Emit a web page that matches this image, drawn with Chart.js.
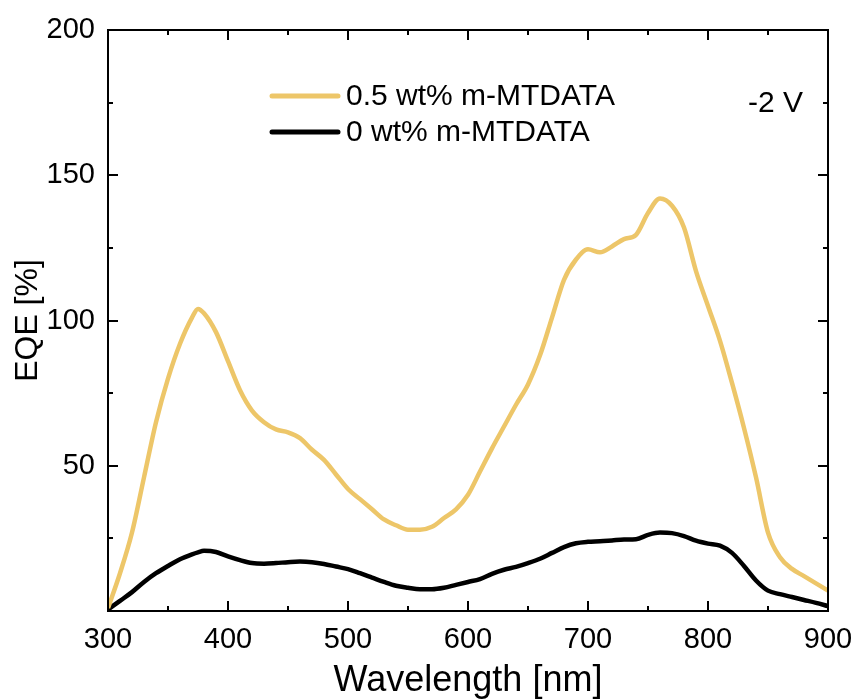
<!DOCTYPE html>
<html>
<head>
<meta charset="utf-8">
<script src="https://cdn.jsdelivr.net/npm/chart.js@4"></script>
<style>
html,body{margin:0;padding:0;background:#fff;}
#wrap{width:856px;height:699px;position:relative;}
</style>
</head>
<body>
<div id="wrap"><canvas id="c" width="856" height="699"></canvas></div>
<script>
const wavelengths = [300,310,320,330,340,350,360,370,375,380,390,400,410,420,430,440,450,460,470,480,490,500,510,520,530,540,550,560,570,580,590,600,610,620,630,640,650,660,670,680,690,700,710,720,730,740,750,760,770,780,790,800,810,820,830,840,850,860,870,880,890,900];
const eqe05 = [1,13,27,46,65,80,92,101,104,102.5,96,86,76,69,65,62.5,61.5,59.5,55.5,52,47,42,38.5,35,31.5,29.5,28,28,29,32,35,40,48,56,63.5,71,78,88,101,114,121,124.5,123.5,125.5,128,129.5,137,142,139.5,132,117,105,93,78.5,63,46,27,18.5,14.5,12,9.5,7];
const eqe0 = [0.5,3.5,6.5,10,13,15.5,17.8,19.5,20.2,20.7,20.3,18.8,17.5,16.5,16.3,16.5,16.8,17,16.8,16.2,15.3,14.4,13,11.5,10,8.7,8,7.5,7.5,8,9,10,11,12.8,14.2,15.2,16.5,18,20,22,23.3,23.8,24,24.3,24.6,24.7,26.2,27,26.8,25.8,24.2,23.2,22.5,20,15.5,10.5,7,5.8,4.8,3.8,2.8,1.7];
const seriesLabels = ['0.5 wt% m-MTDATA', '0 wt% m-MTDATA'];
const xTickLabels = [300,400,500,600,700,800,900];
const yTickLabels = [50,100,150,200];
const annotationText = '-2 V';

const FONT = '"Liberation Sans", Arial, sans-serif';
const YELLOW = '#EDC669';

const frameTicks = {
  id: 'frameTicks',
  afterDraw(chart) {
    const ctx = chart.ctx;
    const a = chart.chartArea;
    const xs = chart.scales.x, ys = chart.scales.y;
    ctx.save();
    ctx.strokeStyle = '#000';
    ctx.lineWidth = 2;
    ctx.strokeRect(a.left, a.top, a.right - a.left, a.bottom - a.top);
    ctx.beginPath();
    xs.ticks.forEach(t => {
      const px = Math.round(xs.getPixelForValue(t.value));
      const len = (t.value % 100 === 0) ? 10 : 5;
      ctx.moveTo(px, a.bottom); ctx.lineTo(px, a.bottom - len);
      ctx.moveTo(px, a.top); ctx.lineTo(px, a.top + len);
    });
    ys.ticks.forEach(t => {
      const py = Math.round(ys.getPixelForValue(t.value));
      const len = (t.value % 50 === 0) ? 10 : 5;
      ctx.moveTo(a.left, py); ctx.lineTo(a.left + len, py);
      ctx.moveTo(a.right, py); ctx.lineTo(a.right - len, py);
    });
    ctx.stroke();

    // legend
    const ds = chart.data.datasets;
    const rows = [96, 132];
    ctx.font = '30px ' + FONT;
    ctx.textBaseline = 'middle';
    ctx.textAlign = 'left';
    ds.forEach((d, i) => {
      ctx.strokeStyle = d.borderColor;
      ctx.lineWidth = 5;
      ctx.lineCap = 'round';
      ctx.beginPath();
      ctx.moveTo(272, rows[i]); ctx.lineTo(338, rows[i]);
      ctx.stroke();
      ctx.fillStyle = '#000';
      ctx.fillText(d.label, 346, rows[i] + 1);
    });
    ctx.textAlign = 'right';
    ctx.fillText(annotationText, 803, 104);
    ctx.restore();
  }
};

new Chart(document.getElementById('c'), {
  type: 'line',
  data: {
    labels: wavelengths,
    datasets: [
      { label: seriesLabels[0], data: wavelengths.map((w,i)=>({x:w,y:eqe05[i]})), borderColor: YELLOW, borderWidth: 4.5, pointRadius: 0, cubicInterpolationMode: 'monotone', fill: false },
      { label: seriesLabels[1], data: wavelengths.map((w,i)=>({x:w,y:eqe0[i]})), borderColor: '#000', borderWidth: 4.5, pointRadius: 0, cubicInterpolationMode: 'monotone', fill: false }
    ]
  },
  options: {
    responsive: false,
    animation: false,
    layout: { padding: { left: 12, right: 28, top: 30, bottom: 0 } },
    plugins: { legend: { display: false }, tooltip: { enabled: false } },
    scales: {
      x: {
        type: 'linear', min: 300, max: 900,
        grid: { display: false, drawTicks: false },
        border: { display: true, color: '#000', width: 2 },
        ticks: {
          stepSize: 50, padding: 12, color: '#000', maxRotation: 0, autoSkip: false,
          font: { family: FONT, size: 29 },
          callback: v => xTickLabels.includes(v) ? String(v) : ''
        },
        title: { display: true, text: 'Wavelength [nm]', color: '#000', font: { family: FONT, size: 36, lineHeight: 1 }, padding: 0 },
        afterFit: s => { s.height = 88; s.paddingLeft = 0; s.paddingRight = 0; }
      },
      y: {
        type: 'linear', min: 0, max: 200,
        grid: { display: false, drawTicks: false },
        border: { display: true, color: '#000', width: 2 },
        ticks: {
          stepSize: 25, padding: 13, color: '#000', autoSkip: false,
          font: { family: FONT, size: 29 },
          callback: v => yTickLabels.includes(v) ? String(v) : ''
        },
        title: { display: true, text: 'EQE [%]', color: '#000', font: { family: FONT, size: 32, lineHeight: 1 }, padding: 0 },
        afterFit: s => { s.width = 96; s.paddingTop = 0; s.paddingBottom = 0; }
      }
    }
  },
  plugins: [frameTicks]
});
</script>
</body>
</html>
